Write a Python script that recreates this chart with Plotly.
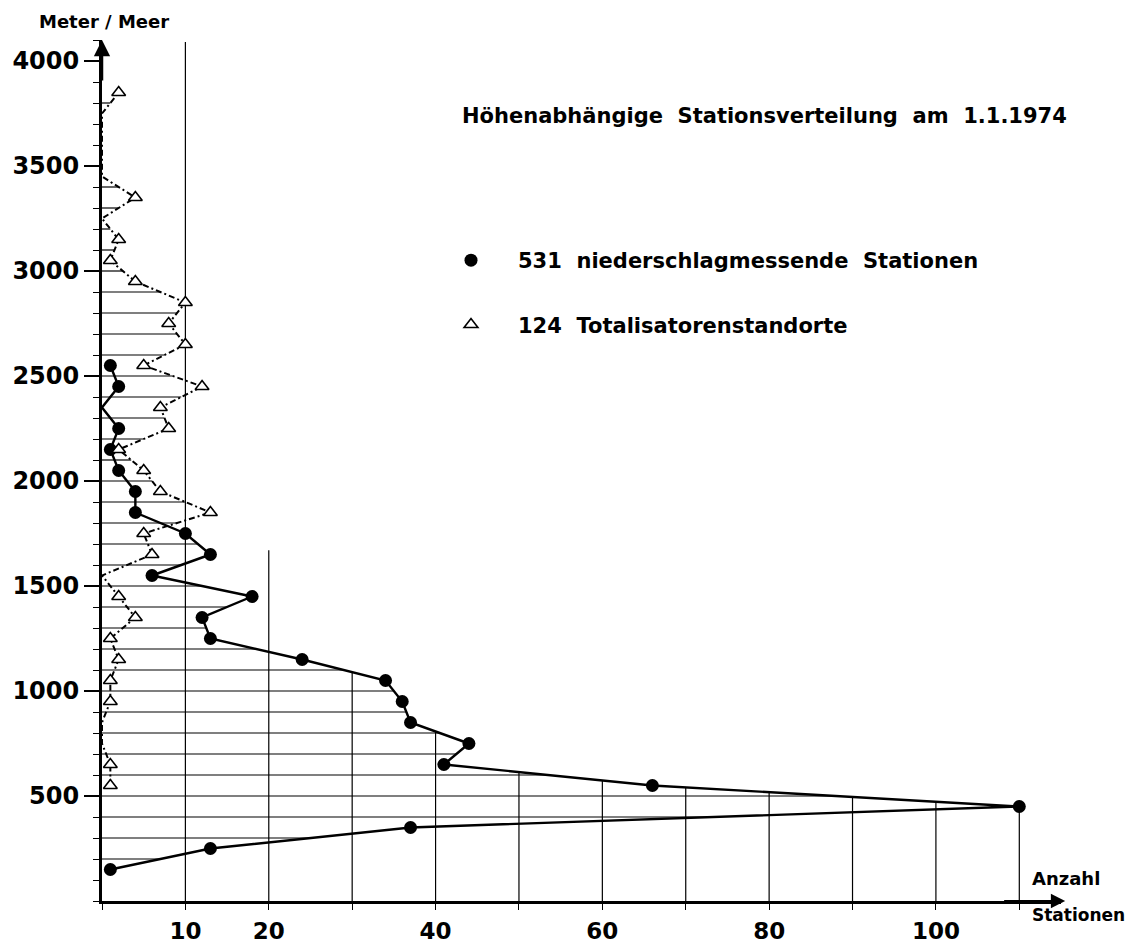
import numpy as np
import plotly.graph_objects as go

# ---------------- data ----------------
# class mid-heights (m ü. M.) and number of stations per 100 m class
heights_precip = [150, 250, 350, 450, 550, 650, 750, 850, 950, 1050, 1150, 1250, 1350,
                  1450, 1550, 1650, 1750, 1850, 1950, 2050, 2150, 2250, 2350, 2450, 2550]
count_precip = [1, 13, 37, 110, 66, 41, 44, 37, 36, 34, 24, 13, 12,
                18, 6, 13, 10, 4, 4, 2, 1, 2, 0, 2, 1]

heights_total = [550, 650, 750, 850, 950, 1050, 1150, 1250, 1350, 1450, 1550, 1650,
                 1750, 1850, 1950, 2050, 2150, 2250, 2350, 2450, 2550, 2650, 2750,
                 2850, 2950, 3050, 3150, 3250, 3350, 3450, 3550, 3650, 3750, 3850]
count_total = [1, 1, 0, 0, 1, 1, 2, 1, 4, 2, 0, 6,
               5, 13, 7, 5, 2, 8, 7, 12, 5, 10, 8,
               10, 4, 1, 2, 0, 4, 0, 0, 0, 0, 2]

name_precip = "531\u00a0 niederschlagmessende\u00a0 Stationen"
name_total = "124\u00a0 Totalisatorenstandorte"

y_tickvals = [500, 1000, 1500, 2000, 2500, 3000, 3500, 4000]
y_ticktext = ["500", "1000", "1500", "2000", "2500", "3000", "3500", "4000"]
x_tickvals = [10, 20, 40, 60, 80, 100]
x_ticktext = ["10", "20", "40", "60", "80", "100"]
grid_x = [10, 20, 30, 40, 50, 60, 70, 80, 90, 100, 110]
grid_top_fixed = {10: 4090, 20: 1670}   # lines drawn taller than the curve in the original
hatch_levels = list(range(200, 3900, 100))

FONT = "DejaVu Sans"

# ---------------- derived hatching (under the envelope of both curves) ----------------
def envelope(h):
    a = np.interp(h, heights_precip, count_precip, left=0, right=0)
    b = np.interp(h, heights_total, count_total, left=0, right=0)
    return max(a, b)

def top_crossing(v):
    best = 0.0
    for hs, cs in ((heights_precip, count_precip), (heights_total, count_total)):
        for i in range(len(hs) - 1):
            x1, x2, y1, y2 = cs[i], cs[i + 1], hs[i], hs[i + 1]
            if x1 == x2:
                continue
            if min(x1, x2) <= v <= max(x1, x2):
                y = y1 + (v - x1) / (x2 - x1) * (y2 - y1)
                best = max(best, y)
    return best

hx, hy = [], []
for h in hatch_levels:
    e = envelope(h)
    if e > 0:
        hx += [0, e, None]
        hy += [h, h, None]

vx, vy = [], []
for v in grid_x:
    top = grid_top_fixed.get(v, top_crossing(v))
    vx += [v, v, None]
    vy += [0, top, None]

# ---------------- figure ----------------
fig = go.Figure()

fig.add_trace(go.Scatter(x=hx, y=hy, mode="lines", line=dict(color="black", width=1.2),
                         showlegend=False, hoverinfo="skip"))
fig.add_trace(go.Scatter(x=vx, y=vy, mode="lines", line=dict(color="black", width=1.2),
                         showlegend=False, hoverinfo="skip"))

# curves
fig.add_trace(go.Scatter(x=count_total, y=heights_total, mode="lines",
                         line=dict(color="black", width=2, dash="6px,3px,2px,3px"),
                         showlegend=False))
fig.add_trace(go.Scatter(x=count_precip, y=heights_precip, mode="lines",
                         line=dict(color="black", width=2.4),
                         showlegend=False))

# markers (only classes with stations)
pp = [(c, h) for c, h in zip(count_precip, heights_precip) if c > 0]
fig.add_trace(go.Scatter(x=[p[0] for p in pp], y=[p[1] for p in pp], mode="markers",
                         name=name_precip, legendgroup="p",
                         marker=dict(symbol="circle", size=13, color="black")))
pt = [(c, h) for c, h in zip(count_total, heights_total) if c > 0]
fig.add_trace(go.Scatter(x=[p[0] for p in pt], y=[p[1] for p in pt], mode="markers",
                         name=name_total, legendgroup="t",
                         marker=dict(symbol="triangle-up", size=12, color="white",
                                     line=dict(color="black", width=1.6))))

W, H = 1133, 946
L, R, T, B = 102, 72, 40, 45
PW, PH = W - L - R, H - T - B

def px(x):
    return (x - L) / PW

def py(y):
    return (H - B - y) / PH

ytickfont = dict(family=FONT, size=24, color="black", weight="bold")
xtickfont = dict(family=FONT, size=23, color="black", weight="bold")
lblfont = dict(family=FONT, size=18, color="black", weight="bold")

fig.update_layout(
    width=W, height=H,
    margin=dict(l=L, r=R, t=T, b=B, autoexpand=False),
    plot_bgcolor="white", paper_bgcolor="white",
    font=dict(family=FONT, color="black"),
    title=dict(text="Höhenabhängige\u00a0 Stationsverteilung\u00a0 am\u00a0 1.1.1974",
               x=462 / W, xref="container", xanchor="left",
               y=1 - 116 / H, yref="container", yanchor="middle",
               font=dict(family=FONT, size=21, color="black", weight="bold")),
    xaxis=dict(range=[0, 115], showgrid=False, zeroline=False, automargin=False,
               showline=True, linecolor="black", linewidth=2.5,
               tickmode="array", tickvals=x_tickvals, ticktext=x_ticktext,
               ticks="outside", ticklen=6, tickwidth=1.2, tickcolor="black",
               minor=dict(tickmode="linear", tick0=0, dtick=10, ticks="outside",
                          ticklen=6, tickwidth=1.2, tickcolor="black"),
               tickfont=xtickfont, ticklabelstandoff=2),
    yaxis=dict(range=[0, 4100], showgrid=False, zeroline=False, automargin=False,
               showline=True, linecolor="black", linewidth=3,
               tickmode="array", tickvals=y_tickvals, ticktext=y_ticktext,
               ticks="outside", ticklen=15, tickwidth=1.5, tickcolor="black",
               minor=dict(tickmode="linear", tick0=0, dtick=100, ticks="outside",
                          ticklen=6, tickwidth=1.2, tickcolor="black"),
               tickfont=ytickfont, ticklabelstandoff=0),
    legend=dict(x=px(424), y=py(240), xanchor="left", yanchor="top",
                traceorder="grouped", tracegroupgap=34, itemwidth=84,
                bgcolor="rgba(0,0,0,0)",
                font=dict(family=FONT, size=21, color="black", weight="bold")),
    annotations=[
        dict(text="Meter / Meer", x=px(37), y=py(22), xref="paper", yref="paper",
             xanchor="left", yanchor="middle", showarrow=False, font=lblfont),
        dict(text="Anzahl", x=px(1030), y=py(878), xref="paper", yref="paper",
             xanchor="left", yanchor="middle", showarrow=False, font=lblfont),
        dict(text="Stationen", x=px(1030), y=py(915), xref="paper", yref="paper",
             xanchor="left", yanchor="middle", showarrow=False,
             font=dict(family=FONT, size=17, color="black", weight="bold")),
        # axis arrows
        dict(x=115.5, y=0, ax=108, ay=0, xref="x", yref="y", axref="x", ayref="y",
             text="", showarrow=True, arrowhead=2, arrowsize=1.3, arrowwidth=2.2,
             arrowcolor="black"),
        dict(x=0, y=4100, ax=0, ay=3900, xref="x", yref="y", axref="x", ayref="y",
             text="", showarrow=True, arrowhead=2, arrowsize=1.3, arrowwidth=2.5,
             arrowcolor="black"),
    ],
)

# remove the browser's default 8px body margin so the figure fills the window
fig.write_html("out.html",
               config={"displayModeBar": False},
               post_script="document.body.style.margin='0';document.body.style.overflow='hidden';")
